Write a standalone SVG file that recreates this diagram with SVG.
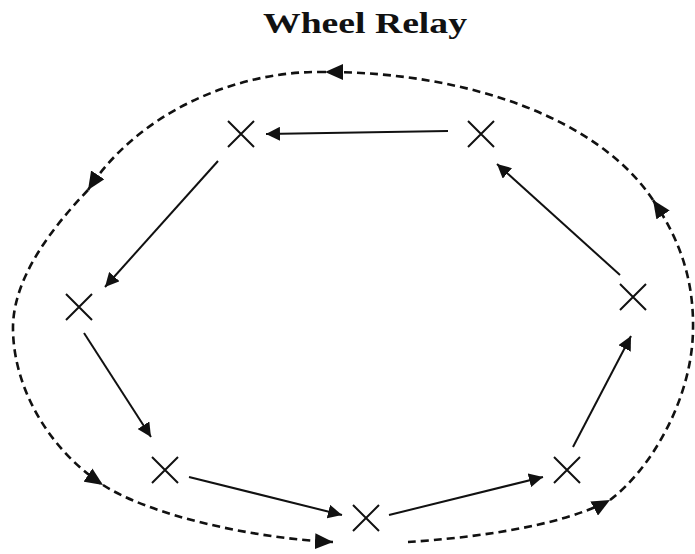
<svg xmlns="http://www.w3.org/2000/svg" width="695" height="554" viewBox="0 0 695 554">
  <style>
    .x { stroke: #111; stroke-width: 2; fill: none; }
    .solid { stroke: #111; stroke-width: 2; fill: none; marker-end: url(#ah); }
    .dash { stroke: #111; stroke-width: 2.6; fill: none; stroke-dasharray: 8 5; marker-end: url(#ahd); }
    .title { font-family: "Liberation Serif", "Times New Roman", serif; font-weight: bold; font-size: 30px; fill: #111; }
  </style>
  <defs>
    <marker id="ah" markerUnits="userSpaceOnUse" markerWidth="15" markerHeight="14" refX="14" refY="7" orient="auto">
      <path d="M0,0 L14,7 L0,14 z" fill="#111"/>
    </marker>
    <marker id="ahd" markerUnits="userSpaceOnUse" markerWidth="19" markerHeight="16" refX="18" refY="8" orient="auto">
      <path d="M0,0 L18,8 L0,16 z" fill="#111"/>
    </marker>
    <path id="xm" d="M-13,-13 L13,13 M-13,13 L13,-13"/>
  </defs>
  <rect width="695" height="554" fill="#fff"/>
  <text class="title" x="263" y="33" textLength="204" lengthAdjust="spacingAndGlyphs">Wheel Relay</text>

  <g id="n-top-left"><use href="#xm" class="x" x="241" y="134"/></g>
  <g id="n-top-right"><use href="#xm" class="x" x="481" y="134"/></g>
  <g id="n-left"><use href="#xm" class="x" x="79" y="307"/></g>
  <g id="n-right"><use href="#xm" class="x" x="633" y="297"/></g>
  <g id="n-bottom-left"><use href="#xm" class="x" x="165" y="470"/></g>
  <g id="n-bottom"><use href="#xm" class="x" x="366" y="518"/></g>
  <g id="n-bottom-right"><use href="#xm" class="x" x="567" y="470"/></g>

  <g id="connectors">
    <line class="solid" x1="448" y1="131" x2="266" y2="134"/>
    <line class="solid" x1="218" y1="161" x2="105" y2="287"/>
    <line class="solid" x1="84" y1="333" x2="151" y2="437"/>
    <line class="solid" x1="189" y1="477" x2="342" y2="515"/>
    <line class="solid" x1="389" y1="515" x2="543" y2="477"/>
    <line class="solid" x1="573" y1="447" x2="631" y2="336"/>
    <line class="solid" x1="620" y1="275" x2="497" y2="164"/>

    <path class="dash" d="M408,542 C470,538 560,527 610,500"/>
    <path class="dash" d="M610,500 C650,470 692,400 693,330 C694,280 680,240 653,200"/>
    <path class="dash" d="M653,200 C600,120 470,72 325,72"/>
    <path class="dash" d="M325,72 C240,70 140,110 88,190"/>
    <path class="dash" d="M88,190 C50,230 12,280 13,330 C14,390 50,450 103,485"/>
    <path class="dash" d="M103,485 C150,515 250,538 333,542"/>
  </g>
</svg>
